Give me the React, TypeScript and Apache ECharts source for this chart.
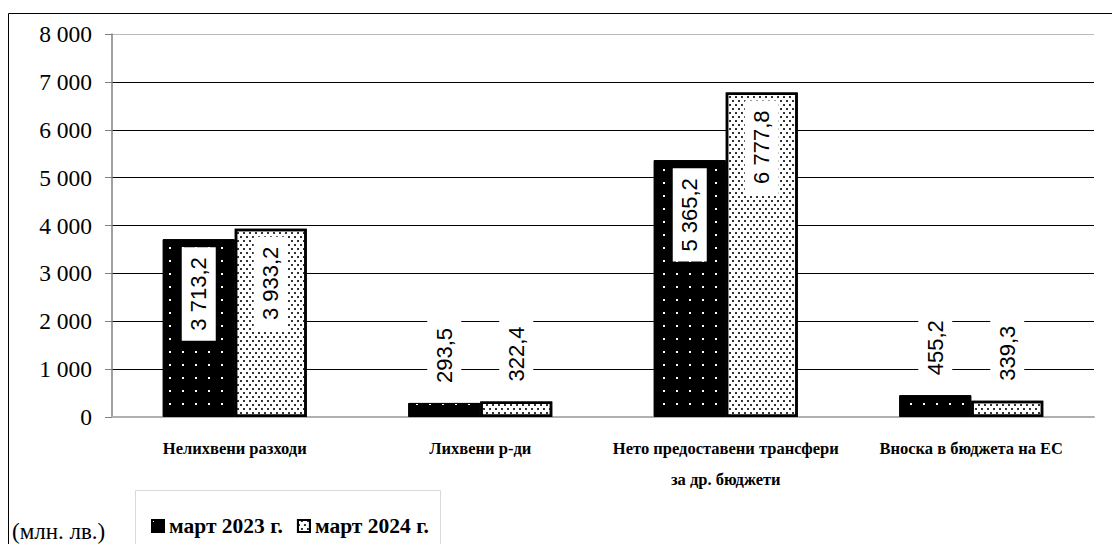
import React, { useEffect, useRef } from "react";
import * as echarts from "echarts";

const categories = [
  "Нелихвени разходи",
  "Лихвени р-ди",
  "Нето предоставени трансфери\nза др. бюджети",
  "Вноска в бюджета на ЕС",
];
const seriesNames = ["март 2023 г.", "март 2024 г."];
const values2023 = [3713.2, 293.5, 5365.2, 455.2];
const values2024 = [3933.2, 322.4, 6777.8, 339.3];
const yMax = 8000;
const yInterval = 1000;
const unitLabel = "(млн. лв.)";

const SERIF = "'Liberation Serif', 'Times New Roman', 'DejaVu Serif', serif";

const fmt = (v: number) => {
  const [i, d] = v.toFixed(1).split(".");
  return i.replace(/\B(?=(\d{3})+(?!\d))/g, " ") + "," + d;
};

const labelFor = (v: number) =>
  v > 1000
    ? {
        show: true,
        position: "insideTop",
        distance: 8,
        rotate: 90,
        align: "right",
        verticalAlign: "middle",
      }
    : {
        show: true,
        position: "top",
        distance: 10,
        rotate: 90,
        align: "left",
        verticalAlign: "middle",
      };

export default function App() {
  const ref = useRef<HTMLDivElement>(null);
  useEffect(() => {
    if (!ref.current) return;
    const chart = echarts.init(ref.current, null, { renderer: "svg" });
    const baseLabel = {
      fontFamily: "Liberation Sans",
      fontSize: 22,
      color: "#000",
      backgroundColor: "#fff",
      padding: [6, 10, 6, 10],
      formatter: (p: any) => fmt(p.value),
    };
    chart.setOption({
      animation: false,
      backgroundColor: "#fff",
      textStyle: { fontFamily: SERIF },
      grid: { left: 112, right: 18, top: 34, bottom: 127 },
      legend: {
        left: 146,
        top: 510,
        itemWidth: 12,
        itemHeight: 12,
        itemGap: 14,
        icon: "rect",
        textStyle: {
          fontFamily: SERIF,
          fontWeight: "bold",
          fontSize: 21.5,
          color: "#000",
        },
        data: seriesNames,
      },
      xAxis: {
        type: "category",
        data: categories,
        axisLine: { lineStyle: { color: "#b0b0b0", width: 2 } },
        axisTick: { show: false },
        axisLabel: {
          margin: 16,
          fontFamily: SERIF,
          fontWeight: "bold",
          fontSize: 16.5,
          lineHeight: 31,
          color: "#000",
          interval: 0,
        },
      },
      yAxis: {
        type: "value",
        min: 0,
        max: yMax,
        interval: yInterval,
        axisLine: { show: true, lineStyle: { color: "#808080", width: 1.5 } },
        axisTick: { show: true, length: 7, lineStyle: { color: "#808080" } },
        axisLabel: {
          margin: 20,
          fontFamily: SERIF,
          fontSize: 23.5,
          color: "#000",
          formatter: (v: number) => String(v).replace(/\B(?=(\d{3})+(?!\d))/g, " "),
        },
        splitLine: {
          lineStyle: {
            color: ["#aaa", "#000", "#000", "#000", "#000", "#000", "#000", "#000", "#bbb"],
            width: 1,
          },
        },
      },
      series: [
        {
          name: seriesNames[0],
          type: "bar",
          barWidth: 72,
          barGap: "0%",
          itemStyle: {
            color: "#000",
            borderColor: "#000",
            borderWidth: 1,
            decal: {
              symbol: "rect",
              symbolSize: 1,
              color: "#fff",
              dashArrayX: [2, 11],
              dashArrayY: [2, 11],
            },
          },
          label: baseLabel,
          data: values2023.map((v) => ({ value: v, label: labelFor(v) })),
        },
        {
          name: seriesNames[1],
          type: "bar",
          barWidth: 72,
          barGap: "0%",
          itemStyle: {
            color: "#fff",
            borderColor: "#000",
            borderWidth: 2.5,
            decal: {
              symbol: "rect",
              symbolSize: 1,
              color: "#333",
              dashArrayX: [
                [1.5, 3.5],
                [0, 2.5, 1.5, 1],
              ],
              dashArrayY: [1.5, 1.5],
            },
          },
          label: baseLabel,
          data: values2024.map((v) => ({ value: v, label: labelFor(v) })),
        },
      ],
      graphic: [
        {
          type: "rect",
          shape: { x: 8.5, y: 13.5, width: 1120, height: 600 },
          style: { fill: "none", stroke: "#000", lineWidth: 1 },
          silent: true,
          z: -1,
        },
        {
          type: "rect",
          shape: { x: 135.5, y: 490.5, width: 305, height: 80 },
          style: { fill: "none", stroke: "#d9d9d9", lineWidth: 1 },
          silent: true,
        },
        {
          type: "text",
          x: 12,
          y: 531,
          style: {
            text: unitLabel,
            fontFamily: SERIF,
            fontSize: 23,
            fill: "#000",
            verticalAlign: "middle",
          },
        },
      ],
    });
    return () => chart.dispose();
  }, []);
  return (
    <div
      ref={ref}
      style={{ position: "fixed", left: 0, top: 0, width: 1112, height: 544 }}
    />
  );
}
